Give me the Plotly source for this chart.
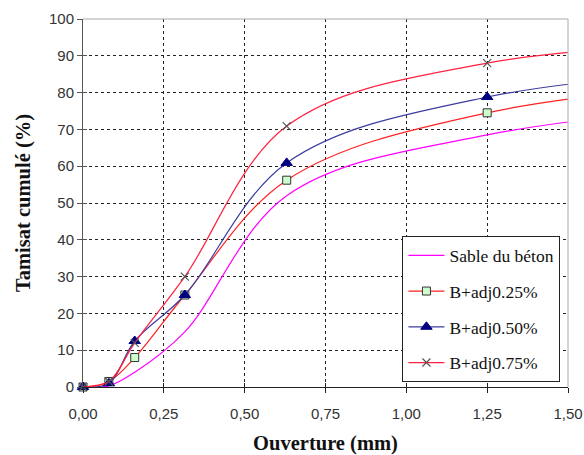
import plotly.graph_objects as go

ouverture = [0.0, 0.08, 0.16, 0.315, 0.63, 1.25, 2.5]
sable = [0.0, 0.3, 4.0, 15.0, 52.0, 68.5, 80.0]
adj025 = [0.0, 1.5, 8.0, 25.0, 56.2, 74.5, 86.0]
adj050 = [0.0, 1.0, 12.5, 25.0, 60.9, 78.8, 89.0]
adj075 = [0.0, 1.5, 12.0, 30.0, 70.9, 88.0, 95.0]

x_ticks = [0, 0.25, 0.5, 0.75, 1.0, 1.25, 1.5]
y_ticks = list(range(0, 101, 10))

fig = go.Figure()

fig.add_trace(go.Scatter(
    x=ouverture, y=sable, name="Sable du béton", mode="lines",
    line=dict(color="#FF00FF", width=1.2, shape="spline", smoothing=1.0),
    legendgroup="a", cliponaxis=False))
fig.add_trace(go.Scatter(
    x=ouverture, y=adj025, name="B+adj0.25%", mode="lines+markers",
    line=dict(color="#FF2020", width=1.2, shape="spline", smoothing=1.0),
    marker=dict(symbol="square", size=8, color="#CCFFCC", line=dict(color="#333333", width=1)),
    legendgroup="b", cliponaxis=False))
fig.add_trace(go.Scatter(
    x=ouverture, y=adj050, name="B+adj0.50%", mode="lines+markers",
    line=dict(color="#3C3CA0", width=1.2, shape="spline", smoothing=1.0),
    marker=dict(symbol="triangle-up", size=10, color="#000080", line=dict(color="#000080", width=1)),
    legendgroup="c", cliponaxis=False))
fig.add_trace(go.Scatter(
    x=ouverture, y=adj075, name="B+adj0.75%", mode="lines+markers",
    line=dict(color="#FF2040", width=1.2, shape="spline", smoothing=1.0),
    marker=dict(symbol="x-thin", size=8, color="#555555", line=dict(color="#555555", width=1.2)),
    legendgroup="d", cliponaxis=False))

tick_font = dict(family="Liberation Sans", size=15, color="#333333")
title_font = dict(family="Liberation Serif", size=20.5, color="#111111")

fig.update_layout(
    width=584, height=455,
    margin=dict(l=83, r=16, t=19, b=68),
    paper_bgcolor="white", plot_bgcolor="white",
    separators=", ",
    showlegend=True,
    legend=dict(
        x=0.658, y=0.41, xanchor="left", yanchor="top",
        bgcolor="white", bordercolor="#222222", borderwidth=1.3,
        font=dict(family="Liberation Serif", size=17.5, color="#111111"),
        tracegroupgap=10, itemwidth=36,
    ),
    xaxis=dict(
        range=[0, 1.5], tickvals=x_ticks, tickformat=".2f", automargin=False,
        showgrid=True, gridcolor="#222222", griddash="3px,3px", gridwidth=1,
        showline=True, linecolor="#222222", linewidth=1, mirror=False,
        ticks="outside", ticklen=5, tickcolor="#222222",
        ticklabelstandoff=8,
        tickfont=tick_font,
        title=dict(text="<b>Ouverture (mm)</b>", font=title_font, standoff=14),
        zeroline=False,
    ),
    yaxis=dict(
        range=[0, 100], tickvals=y_ticks, automargin=False,
        showgrid=True, gridcolor="#222222", griddash="3px,3px", gridwidth=1,
        showline=True, linecolor="#555555", linewidth=1,
        ticks="outside", ticklen=5, tickcolor="#555555",
        tickfont=tick_font,
        title=dict(text="<b>Tamisat cumulé (%)</b>", font=title_font, standoff=12),
        zeroline=False,
    ),
    # overlay axes supplying the inner half of the crossing tick marks
    xaxis2=dict(
        overlaying="x", anchor="y", side="bottom", range=[0, 1.5], tickvals=x_ticks,
        ticks="inside", ticklen=4, tickcolor="#222222", showticklabels=False,
        showgrid=False, showline=False, zeroline=False, automargin=False,
    ),
    yaxis2=dict(
        overlaying="y", anchor="x", side="left", range=[0, 100], tickvals=y_ticks,
        ticks="inside", ticklen=4, tickcolor="#555555", showticklabels=False,
        showgrid=False, showline=False, zeroline=False, automargin=False,
    ),
)

fig.add_trace(go.Scatter(x=[], y=[], xaxis="x2", yaxis="y2", showlegend=False, hoverinfo="skip"))

# light border on top and right of plot area
fig.add_shape(type="line", xref="paper", yref="paper", x0=0, x1=1, y0=1, y1=1,
              line=dict(color="#AAAAAA", width=1))
fig.add_shape(type="line", xref="paper", yref="paper", x0=1, x1=1, y0=0, y1=1,
              line=dict(color="#AAAAAA", width=1))

fig.write_html(
    "out.html",
    config={"displayModeBar": False},
    post_script="document.body.style.margin='0';document.body.style.overflow='hidden';",
)
